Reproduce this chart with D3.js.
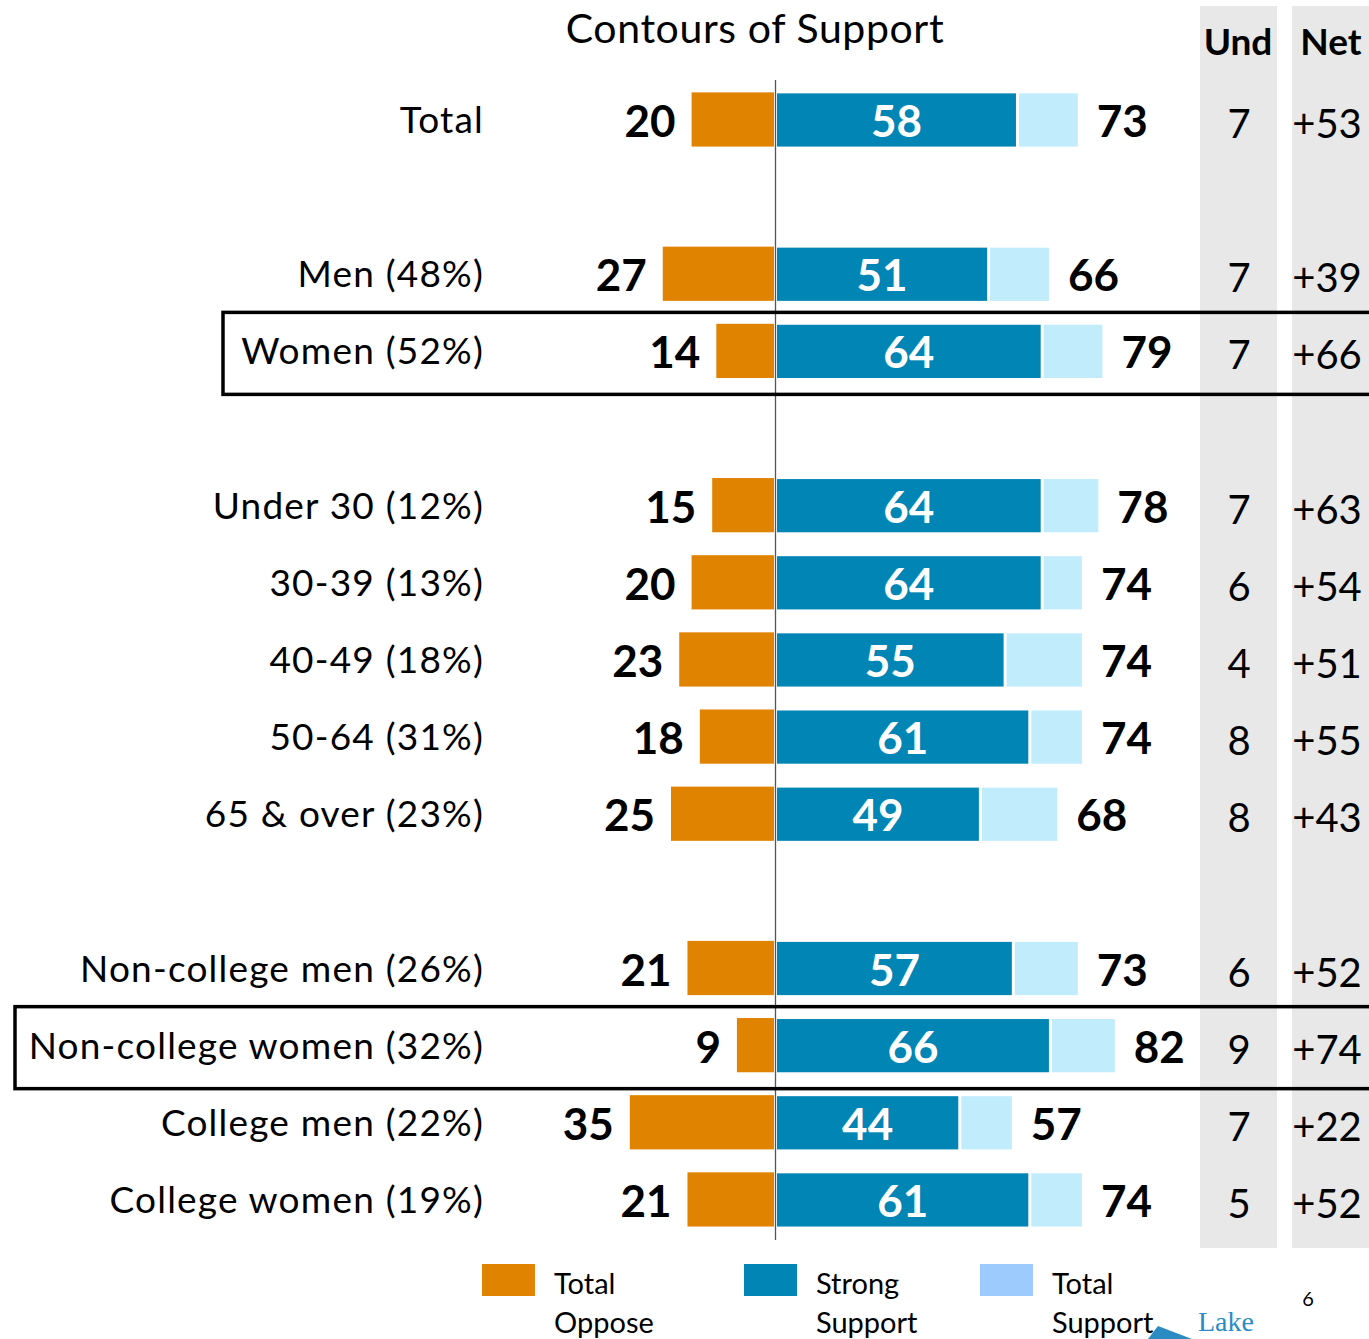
<!DOCTYPE html>
<html><head><meta charset="utf-8">
<script src="https://cdn.jsdelivr.net/npm/d3@7"></script>
<style>body{margin:0;background:#fff}svg{display:block}text{font-family:Lato,"Open Sans",sans-serif}</style>
</head><body>
<script>
const categories = ["Total","Men (48%)","Women (52%)","Under 30 (12%)","30-39 (13%)","40-49 (18%)","50-64 (31%)","65 & over (23%)","Non-college men (26%)","Non-college women (32%)","College men (22%)","College women (19%)"];
const groups = ["all","gender","gender","age","age","age","age","age","edu","edu","edu","edu"];
const oppose = [20,27,14,15,20,23,18,25,21,9,35,21];
const strong = [58,51,64,64,64,55,61,49,57,66,44,61];
const totalSupport = [73,66,79,78,74,74,74,68,73,82,57,74];
const undecided = [7,7,7,7,6,4,8,8,6,9,7,5];
const net = ["+53","+39","+66","+63","+54","+51","+55","+43","+52","+74","+22","+52"];
const highlighted = ["Women (52%)","Non-college women (32%)"];
const legendItems = [["Total","Oppose"],["Strong","Support"],["Total","Support"]];
const title = "Contours of Support";

const W = 1369, H = 1339;
const cOpp = "#e08300", cStrong = "#0085b5", cLight = "#c0ecfc", cLegLight = "#9dcbfd";
const svg = d3.select("body").append("svg").attr("width", W).attr("height", H);

// slots with spacer between groups
const slotKeys = [];
categories.forEach((c, i) => {
  if (i > 0 && groups[i] !== groups[i-1]) slotKeys.push("gap" + i);
  slotKeys.push(c);
});
const y = d3.scaleBand().domain(slotKeys).range([81.4, 81.4 + 77.14 * slotKeys.length]).paddingInner(0.31).paddingOuter(0.155);
const xR = d3.scaleLinear().domain([0, 100]).range([777, 1189]);
const xL = d3.scaleLinear().domain([0, 100]).range([774, 362]);

// grey columns
svg.append("rect").attr("x", 1200).attr("y", 6).attr("width", 77).attr("height", 1242).attr("fill", "#e8e8e8");
svg.append("rect").attr("x", 1292).attr("y", 6).attr("width", 77).attr("height", 1242).attr("fill", "#e8e8e8");
svg.append("text").attr("x", 1238).attr("y", 55).attr("text-anchor", "middle").attr("font-size", 37).attr("font-weight", "bold").text("Und");
svg.append("text").attr("x", 1331).attr("y", 55).attr("text-anchor", "middle").attr("font-size", 37).attr("font-weight", "bold").text("Net");

svg.append("text").attr("x", 755).attr("y", 43).attr("text-anchor", "middle").attr("font-size", 41).attr("letter-spacing", 0.6).text(title);

const rows = svg.append("g").selectAll("g").data(categories).join("g")
  .attr("transform", d => `translate(0,${y(d)})`);
const bh = y.bandwidth();

rows.append("rect").attr("x", (d,i) => xL(oppose[i])).attr("y", -1).attr("width", (d,i) => xL(0) - xL(oppose[i])).attr("height", bh + 1).attr("fill", cOpp);
rows.append("rect").attr("x", xR(0)).attr("y", 0).attr("width", (d,i) => xR(strong[i]) - xR(0)).attr("height", bh).attr("fill", cStrong);
rows.append("rect").attr("x", (d,i) => xR(strong[i]) + 3).attr("y", 0).attr("width", (d,i) => xR(totalSupport[i]) - xR(strong[i]) - 3).attr("height", bh).attr("fill", cLight);

const ty = bh / 2 + 14;
rows.append("text").attr("x", 484).attr("y", ty - 1).attr("text-anchor", "end").attr("font-size", 37).attr("letter-spacing", 1.2).text(d => d);
rows.append("text").attr("x", (d,i) => xL(oppose[i]) - 16).attr("y", ty + 3).attr("text-anchor", "end").attr("font-size", 44).attr("font-weight", "bold").text((d,i) => oppose[i]);
rows.append("text").attr("x", (d,i) => (xR(0) + xR(strong[i])) / 2).attr("y", ty + 3).attr("text-anchor", "middle").attr("font-size", 44).attr("font-weight", "bold").attr("fill", "#fff").text((d,i) => strong[i]);
rows.append("text").attr("x", (d,i) => xR(totalSupport[i]) + 19).attr("y", ty + 3).attr("text-anchor", "start").attr("font-size", 44).attr("font-weight", "bold").text((d,i) => totalSupport[i]);
rows.append("text").attr("x", 1239).attr("y", ty + 4).attr("text-anchor", "middle").attr("font-size", 40).text((d,i) => undecided[i]);
rows.append("text").attr("x", 1327).attr("y", ty + 4).attr("text-anchor", "middle").attr("font-size", 40).text((d,i) => net[i]);

// center axis
svg.append("line").attr("x1", 775.5).attr("x2", 775.5).attr("y1", 80).attr("y2", 1240).attr("stroke", "#555").attr("stroke-width", 1.3);

// highlight boxes
const boxLeft = {"Women (52%)": 223, "Non-college women (32%)": 15};
highlighted.forEach(c => {
  const cy = y(c) + bh / 2;
  svg.append("rect").attr("x", boxLeft[c]).attr("y", cy - 39).attr("width", W - boxLeft[c] + 10).attr("height", 82)
    .attr("fill", "none").attr("stroke", "#000").attr("stroke-width", 3.5);
});

// legend
const legX = [482, 744, 980], legC = [cOpp, cStrong, cLegLight];
legendItems.forEach((t, i) => {
  svg.append("rect").attr("x", legX[i]).attr("y", 1264).attr("width", 53).attr("height", 32).attr("fill", legC[i]);
  svg.append("text").attr("x", legX[i] + 72).attr("y", 1294).attr("font-size", 29).text(t[0]);
  svg.append("text").attr("x", legX[i] + 72).attr("y", 1333).attr("font-size", 29).text(t[1]);
});
svg.append("text").attr("x", 1308).attr("y", 1306).attr("text-anchor", "middle").attr("font-size", 20).text("6");
svg.append("path").attr("d", "M1148,1339 L1158,1326 L1192,1339 Z").attr("fill", "#2b8cc4");
svg.append("text").attr("x", 1198).attr("y", 1331).attr("font-size", 28)
  .style("font-family", "'Liberation Serif','DejaVu Serif',serif").attr("fill", "#2b8cc4").text("Lake");
</script>
</body></html>
